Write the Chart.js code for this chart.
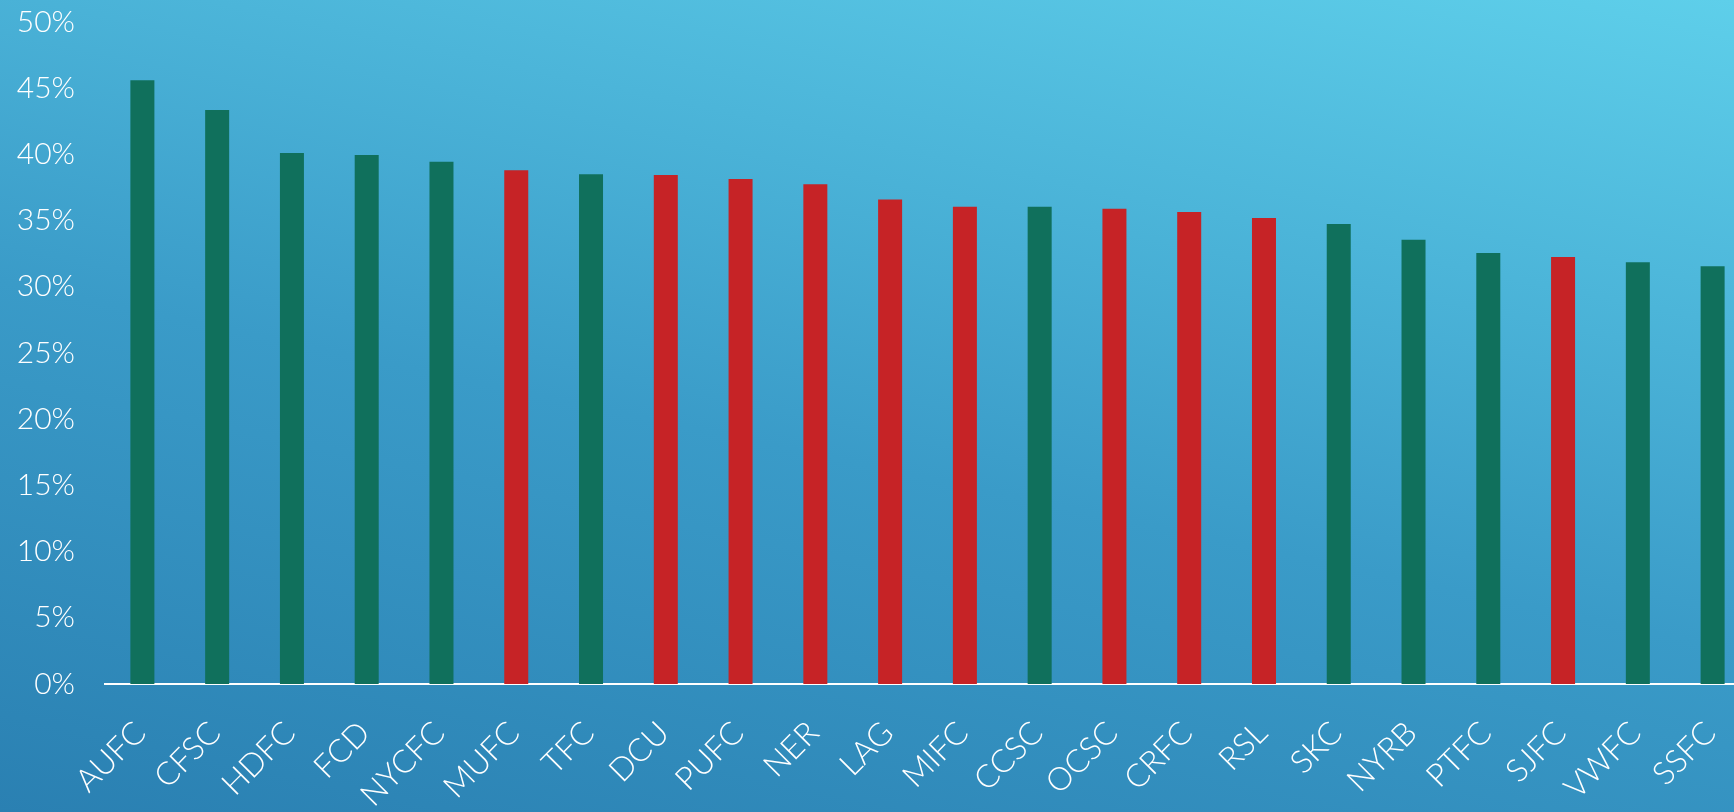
<!DOCTYPE html>
<html>
<head>
<meta charset="utf-8">
<script src="https://cdn.jsdelivr.net/npm/chart.js@4/dist/chart.umd.min.js"></script>
<style>
  html, body { margin: 0; padding: 0; width: 1734px; height: 812px; overflow: hidden; }
  body { background: linear-gradient(12deg, #2a80b2 0%, #3a9bc8 45%, #5ecfea 100%); position: relative; }
  #c { position: absolute; left: 0; top: 0; }
</style>
</head>
<body>
<canvas id="c" width="1750" height="812"></canvas>
<script>
const categories = ["AUFC","CFSC","HDFC","FCD","NYCFC","MUFC","TFC","DCU","PUFC","NER","LAG","MIFC","CCSC","OCSC","CRFC","RSL","SKC","NYRB","PTFC","SJFC","VWFC","SSFC"];
const values = [45.6, 43.35, 40.1, 39.95, 39.45, 38.8, 38.5, 38.45, 38.15, 37.75, 36.6, 36.05, 36.05, 35.9, 35.65, 35.2, 34.75, 33.55, 32.55, 32.25, 31.85, 31.55];
// "g" = green group, "r" = red group
const groups = ["g","g","g","g","g","r","g","r","r","r","r","r","g","r","r","r","g","g","g","r","g","g"];
const groupColors = { g: "#10705c", r: "#c62326" };
const yTicks = [0, 5, 10, 15, 20, 25, 30, 35, 40, 45, 50];

const FONT = "Lato, 'Open Sans', sans-serif";

function zeroPad(s) { s.paddingTop = 0; s.paddingBottom = 0; s.paddingLeft = 0; s.paddingRight = 0; }

new Chart(document.getElementById("c"), {
  type: "bar",
  data: {
    labels: categories,
    datasets: [{
      data: values,
      backgroundColor: groups.map(g => groupColors[g]),
      barPercentage: 0.321,
      categoryPercentage: 1.0,
      borderWidth: 0
    }]
  },
  options: {
    responsive: false,
    animation: false,
    devicePixelRatio: 1,
    layout: { padding: { top: 22, right: 0, left: 0, bottom: 0 } },
    plugins: { legend: { display: false }, tooltip: { enabled: false } },
    scales: {
      x: {
        z: 1,
        grid: { display: false, drawTicks: false },
        border: { display: true, color: "#ffffff", width: 2 },
        ticks: {
          color: "#ffffff",
          font: { family: FONT, size: 32, weight: "300" },
          maxRotation: 45, minRotation: 45,
          autoSkip: false,
          padding: 30,
          labelOffset: -2
        },
        afterFit: s => { s.height = 128; zeroPad(s); }
      },
      y: {
        min: yTicks[0],
        max: yTicks[yTicks.length - 1],
        afterBuildTicks: s => { s.ticks = yTicks.map(v => ({ value: v })); },
        grid: { display: false, drawTicks: false },
        border: { display: false },
        ticks: {
          color: "#ffffff",
          font: { family: FONT, size: 30, weight: "300" },
          padding: 30,
          callback: v => v + "%"
        },
        afterFit: s => { s.width = 105; zeroPad(s); }
      }
    }
  }
});
</script>
</body>
</html>
